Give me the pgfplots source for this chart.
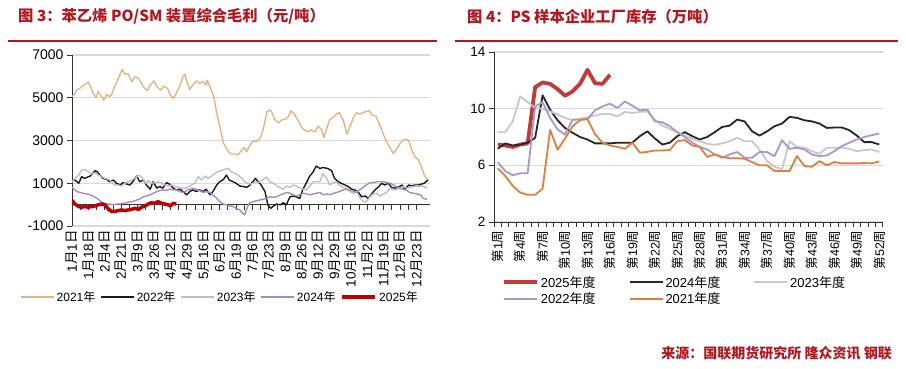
\documentclass[border=0pt]{standalone}
\usepackage{pgfplots}
\pgfplotsset{compat=1.18}
\usepackage{pgfplotstable}
\usepackage{fontspec}
\setmainfont{Liberation Sans}
\newfontfamily\cjk{Noto Sans CJK SC}
\newcommand\C[1]{{\cjk #1}}
\definecolor{titlered}{HTML}{B3161E}
\definecolor{c21}{HTML}{E6B482}
\definecolor{c22}{HTML}{1A1A1A}
\definecolor{c23}{HTML}{BFBFBF}
\definecolor{c24}{HTML}{A08EC2}
\definecolor{c25}{HTML}{C00000}
\definecolor{r25}{HTML}{C23B3B}
\definecolor{r24}{HTML}{262626}
\definecolor{r23}{HTML}{C8C8C8}
\definecolor{r22}{HTML}{A799C9}
\definecolor{r21}{HTML}{E07F3C}
\definecolor{gridc}{HTML}{D9D9D9}

\pgfplotstableread{
w a21 a22 a23 a24
1 5.79 6.23 8.34 7.17
2 5.25 5.6 8.34 7.55
3 4.55 5.3 9.1 7.4
4 4.08 5.44 10.87 7.47
5 3.92 5.44 10.47 7.6
6 3.92 10.16 10.05 7.94
7 4.36 10.45 9.98 10.94
8 8.5 9.35 9.81 9.93
9 7.1 8.53 9.58 9.18
10 7.9 8.17 9.35 8.64
11 8.75 9.23 9.18 8.3
12 9.2 9.23 9.27 8.0
13 9.27 9.27 9.39 7.82
14 8.2 9.88 9.51 7.55
15 7.6 10.16 9.63 7.55
16 7.4 10.35 9.63 7.55
17 7.3 10.05 9.46 7.6
18 7.17 10.51 9.77 7.6
19 7.6 10.21 9.7 7.6
20 6.9 9.88 9.77 8.06
21 6.95 9.93 9.81 8.4
22 7.05 9.11 9.23 7.9
23 7.05 9.04 8.8 7.47
24 7.08 8.76 8.57 7.6
25 7.7 8.34 8.34 8.06
26 7.78 8.0 8.1 8.34
27 7.4 7.6 7.87 8.06
28 7.3 7.3 7.7 7.82
29 6.6 7.12 7.52 8.0
30 6.77 6.77 7.45 8.34
31 6.6 6.54 7.55 8.71
32 6.5 6.77 7.7 8.8
33 6.5 6.94 7.94 9.23
34 6.47 6.54 7.7 9.1
35 6.23 6.54 7.7 8.4
36 6.0 6.94 7.12 8.1
37 6.0 6.94 6.3 8.4
38 5.6 6.65 5.9 8.76
39 5.6 7.78 5.72 8.95
40 5.6 7.17 7.7 9.42
41 6.65 7.24 7.3 9.35
42 5.95 7.12 7.24 9.18
43 5.9 6.77 7.0 9.1
44 6.3 6.65 6.82 8.95
45 6.0 6.7 7.24 8.64
46 6.23 7.0 7.24 8.67
47 6.14 7.36 7.24 8.67
48 6.14 7.6 7.17 8.48
49 6.14 7.82 7.0 8.1
50 6.16 8.0 7.07 7.64
51 6.14 8.13 7.12 7.64
52 6.28 8.25 6.94 7.47
}\psweekly

\pgfplotstableread{
w a25
1 7.47
2 7.4
3 7.3
4 7.47
5 7.55
6 11.52
7 11.85
8 11.75
9 11.38
10 10.91
11 11.22
12 11.75
13 12.74
14 11.8
15 11.75
16 12.39
}\psweeklyb

\begin{document}
\begin{tikzpicture}
\fill[white] (0,0) rectangle (906pt,368pt);
\path[use as bounding box] (0,0) rectangle (906pt,368pt);

% titles and rules
\node[anchor=west, inner sep=0pt, text=titlered, font=\cjk\bfseries\fontsize{15.3}{15.3}\selectfont] at (18pt,351.5pt) {图 3：苯乙烯 PO/SM 装置综合毛利（元/吨）};
\node[anchor=west, inner sep=0pt, text=titlered, font=\cjk\bfseries\fontsize{15.3}{15.3}\selectfont] at (467pt,351.5pt) {图 4：PS 样本企业工厂库存（万吨）};
\draw[titlered, line width=2pt] (8pt,327pt) -- (437pt,327pt);
\draw[titlered, line width=2pt] (455pt,327pt) -- (898pt,327pt);
\node[anchor=east, inner sep=0pt, text=titlered, font=\cjk\bfseries\fontsize{14}{14}\selectfont] at (892pt,15pt) {来源：国联期货研究所 隆众资讯 钢联};

% ---------------- left chart ----------------
\begin{axis}[
  at={(72pt,142pt)}, anchor=south west,
  width=358pt, height=171pt, scale only axis,
  xmin=0, xmax=371, ymin=-1000, ymax=7000, enlargelimits=false,
  axis x line=middle, axis y line=left,
  hide obscured x ticks=false, hide obscured y ticks=false,
  axis line style={-, draw=black!80, line width=1pt},
  xtick={0,17,...,357}, minor x tick num=1,
  xticklabels={1\C{月}1\C{日}, 1\C{月}18\C{日}, 2\C{月}4\C{日}, 2\C{月}21\C{日}, 3\C{月}9\C{日}, 3\C{月}26\C{日}, 4\C{月}12\C{日}, 4\C{月}29\C{日}, 5\C{月}16\C{日}, 6\C{月}2\C{日}, 6\C{月}19\C{日}, 7\C{月}6\C{日}, 7\C{月}23\C{日}, 8\C{月}9\C{日}, 8\C{月}26\C{日}, 9\C{月}12\C{日}, 9\C{月}29\C{日}, 10\C{月}16\C{日}, 11\C{月}2\C{日}, 11\C{月}19\C{日}, 12\C{月}6\C{日}, 12\C{月}23\C{日}},
  xticklabel style={rotate=90, anchor=east, font=\fontsize{13.5}{13.5}\selectfont},
  xticklabel shift=17pt,
  ytick={-1000,1000,3000,5000,7000},
  yticklabels={-1000,1000,3000,5000,7000},
  yticklabel style={font=\fontsize{14}{14}\selectfont},
  ymajorgrids, grid style={draw=gridc, line width=1.2pt},
  tick align=outside, major tick length=5pt, minor tick length=5pt,
  tick style={draw=black!80, line width=1pt},
  every axis plot/.append style={no marks, line join=round},
  legend columns=5,
  legend image code/.code={\draw[#1] (0pt,0pt) -- (33pt,0pt);},
  legend style={at={(-0.145,-0.415)}, anchor=west, draw=none, fill=none, inner sep=0pt,
    font=\fontsize{12}{12}\selectfont,
    /tikz/every even column/.append style={column sep=3pt}},
]
\addplot[c21, line width=1.4pt] coordinates {(0,5050)(3,5200)(5,5360)(8,5440)(12,5590)(17,5720)(19,5545)(22,5200)(25,5000)(27,5280)(31,5050)(33,4890)(36,5155)(39,5050)(41,5155)(44,5510)(48,5900)(52,6320)(55,6100)(58,6130)(62,5750)(65,5980)(69,5900)(72,5670)(74,5510)(78,5330)(81,5590)(85,5790)(88,5510)(92,5360)(95,5545)(99,5440)(102,5125)(105,4970)(108,5200)(112,5590)(115,5980)(117,6100)(119,5750)(122,5390)(125,5590)(129,5790)(132,5670)(136,5750)(139,5590)(140,5825)(143,5510)(147,5050)(150,4270)(154,3490)(157,2870)(162,2480)(165,2370)(169,2370)(172,2320)(176,2560)(178,2680)(181,2480)(184,2750)(188,2990)(191,2940)(195,3100)(198,3490)(202,4345)(205,4420)(207,4345)(210,3990)(214,3830)(217,3960)(221,3990)(224,4110)(227,4390)(231,4190)(234,3960)(238,3610)(241,3490)(245,3410)(248,3490)(252,3410)(255,3670)(259,3490)(261,3140)(264,3570)(267,3960)(271,4110)(275,4270)(277,4300)(281,3960)(285,3300)(288,3650)(292,4110)(295,4300)(298,4240)(304,4345)(308,4390)(311,4190)(315,4140)(319,3720)(323,3250)(326,2940)(330,2630)(333,2400)(336,2590)(340,2870)(343,3020)(347,3050)(349,2990)(352,2560)(355,2270)(359,2090)(362,1780)(365,1390)(369,1120)};
\addlegendentry{2021\C{年}}
\addplot[c22, line width=1.4pt] coordinates {(0,1100)(3,1150)(7,1000)(10,1310)(13,1230)(19,1340)(24,1590)(26,1540)(29,1380)(32,1230)(36,1180)(39,1070)(43,1150)(46,1000)(50,920)(53,1030)(57,960)(60,920)(63,1070)(67,1340)(70,1070)(74,1150)(77,920)(81,720)(84,1070)(88,770)(91,850)(94,770)(98,1030)(101,960)(105,770)(108,690)(112,720)(115,610)(119,460)(122,610)(125,690)(129,610)(132,690)(136,610)(139,720)(143,460)(146,610)(150,920)(153,1070)(157,1180)(160,1380)(163,1150)(167,1070)(170,1000)(174,870)(177,850)(181,810)(184,900)(188,1100)(190,1230)(193,1070)(196,920)(200,610)(203,-10)(206,-170)(209,-60)(212,30)(216,-10)(219,90)(222,-10)(226,370)(229,400)(232,370)(236,290)(239,690)(243,1030)(246,1310)(250,1540)(253,1800)(257,1690)(260,1740)(265,1690)(269,1590)(272,1230)(276,1070)(279,1000)(283,920)(286,850)(290,720)(293,690)(297,570)(300,370)(304,400)(307,290)(311,530)(314,690)(318,850)(321,1000)(324,920)(328,1000)(331,810)(335,770)(338,810)(342,920)(345,720)(349,920)(352,870)(355,920)(359,920)(362,960)(365,1000)(369,1150)};
\addlegendentry{2022\C{年}}
\addplot[c23, line width=1.4pt] coordinates {(0,1050)(3,1230)(7,1380)(10,1620)(13,1650)(17,1540)(20,1430)(24,1490)(27,1380)(31,1310)(34,1230)(38,1180)(41,1070)(44,920)(48,920)(51,870)(55,1000)(58,1070)(62,1150)(65,1230)(69,1380)(72,1310)(76,1000)(79,1120)(82,1000)(86,1030)(89,1070)(93,1000)(96,920)(100,870)(103,920)(107,850)(110,810)(113,770)(117,770)(120,810)(124,920)(127,1000)(131,1310)(134,1150)(138,1340)(141,1230)(144,1310)(148,1460)(151,1540)(155,1590)(158,1650)(162,1700)(165,1540)(169,1460)(172,1380)(176,1230)(179,1070)(182,1000)(186,960)(190,1070)(193,1030)(198,1180)(202,1280)(205,1070)(209,1000)(212,870)(215,810)(219,720)(222,870)(226,810)(229,920)(233,850)(236,770)(240,720)(243,690)(246,850)(250,1070)(253,1070)(257,1070)(260,1460)(264,1230)(267,920)(271,1030)(274,1070)(277,920)(281,810)(284,770)(288,610)(292,530)(295,610)(298,340)(302,140)(305,140)(309,370)(312,500)(316,530)(319,400)(323,500)(326,570)(330,770)(333,690)(336,720)(340,770)(343,850)(347,770)(350,810)(354,850)(357,870)(361,850)(364,870)(368,770)};
\addlegendentry{2023\C{年}}
\addplot[c24, line width=1.4pt] coordinates {(0,800)(1,770)(5,610)(8,570)(12,530)(15,500)(19,460)(22,400)(26,290)(29,180)(32,90)(36,30)(39,30)(43,-10)(46,30)(50,30)(53,60)(57,90)(60,140)(63,140)(67,220)(70,250)(74,370)(77,400)(81,460)(84,530)(88,610)(91,660)(94,690)(98,660)(101,720)(105,690)(108,690)(112,610)(115,570)(119,660)(122,720)(125,770)(129,720)(132,660)(136,570)(139,610)(143,570)(146,460)(150,290)(153,140)(157,30)(160,-10)(163,-60)(167,-90)(170,-170)(174,-250)(177,-420)(179,-480)(181,-200)(184,80)(188,140)(191,180)(195,220)(198,250)(202,290)(205,370)(209,340)(212,370)(216,460)(219,500)(222,570)(226,530)(229,460)(233,400)(236,460)(240,530)(243,500)(246,460)(250,500)(253,530)(257,570)(260,460)(264,500)(267,460)(271,530)(274,570)(277,610)(281,690)(284,720)(288,690)(292,610)(295,570)(298,690)(302,810)(305,920)(309,1030)(312,1030)(316,1070)(319,1070)(323,1070)(326,1030)(330,1000)(333,920)(336,850)(340,770)(343,720)(347,660)(350,570)(354,530)(357,500)(361,460)(364,290)(368,250)};
\addlegendentry{2024\C{年}}
\addplot[c25, line width=3.5pt] coordinates {(0,200)(1,140)(3,30)(7,-90)(10,-120)(13,-90)(17,-120)(20,-90)(24,-60)(27,-10)(31,30)(34,-10)(38,-220)(41,-320)(44,-320)(48,-280)(51,-250)(55,-280)(58,-250)(62,-220)(65,-170)(69,-220)(72,-120)(76,-60)(79,30)(82,90)(86,60)(89,140)(93,60)(96,30)(100,-10)(102,-60)(105,60)(108,30)};
\addlegendentry{2025\C{年}}
\end{axis}

% ---------------- right chart ----------------
\begin{axis}[
  at={(494pt,146pt)}, anchor=south west,
  width=389pt, height=170pt, scale only axis,
  xmin=0.5, xmax=52.5, ymin=2, ymax=14, enlargelimits=false,
  axis x line=bottom, axis y line=left,
  axis line style={-, draw=black!80, line width=1pt},
  xtick={1,4,...,52},
  xticklabels={\C{第}1\C{周},\C{第}4\C{周},\C{第}7\C{周},\C{第}10\C{周},\C{第}13\C{周},\C{第}16\C{周},\C{第}19\C{周},\C{第}22\C{周},\C{第}25\C{周},\C{第}28\C{周},\C{第}31\C{周},\C{第}34\C{周},\C{第}37\C{周},\C{第}40\C{周},\C{第}43\C{周},\C{第}46\C{周},\C{第}49\C{周},\C{第}52\C{周}},
  major x tick style={draw=none},
  minor xtick={0.5,1.5,...,52.5},
  xticklabel style={rotate=90, anchor=east, font=\fontsize{12.5}{12.5}\selectfont},
  ytick={2,6,10,14},
  yticklabel style={font=\fontsize{13.5}{13.5}\selectfont},
  /pgf/number format/assume math mode=true,
  ymajorgrids, grid style={draw=gridc, line width=1.2pt},
  tick align=outside, major tick length=5pt, minor tick length=5pt,
  tick style={draw=black!80, line width=1pt},
  every axis plot/.append style={no marks, line join=round},
  legend columns=3,
  legend image code/.code={\draw[#1] (0pt,0pt) -- (33pt,0pt);},
  legend style={at={(0.02,-0.403)}, anchor=west, draw=none, fill=none, inner sep=0pt,
    font=\fontsize{13}{13}\selectfont, row sep=0pt,
    /tikz/every even column/.append style={column sep=31pt}},
  legend cell align=left,
]
\addplot[r25, line width=3.8pt] table[x=w, y=a25] {\psweeklyb};
\addlegendentry{2025\C{年度}}
\addplot[r24, line width=1.8pt] table[x=w, y=a24] {\psweekly};
\addlegendentry{2024\C{年度}}
\addplot[r23, line width=1.8pt] table[x=w, y=a23] {\psweekly};
\addlegendentry{2023\C{年度}}
\addplot[r22, line width=1.8pt] table[x=w, y=a22] {\psweekly};
\addlegendentry{2022\C{年度}}
\addplot[r21, line width=1.8pt] table[x=w, y=a21] {\psweekly};
\addlegendentry{2021\C{年度}}
\end{axis}
\end{tikzpicture}
\end{document}
